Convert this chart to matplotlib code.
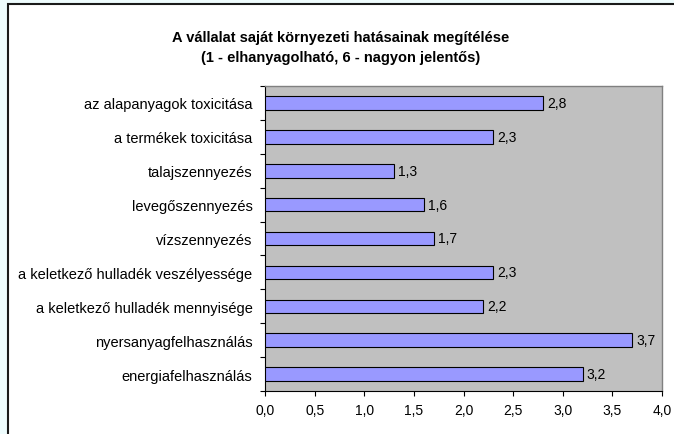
import matplotlib
matplotlib.use("Agg")
import matplotlib.pyplot as plt
from matplotlib.patches import Rectangle
from matplotlib.ticker import FixedLocator
import numpy as np

plt.rcParams['font.family'] = ['Liberation Sans', 'DejaVu Sans']

categories = [
    "az alapanyagok toxicitása",
    "a termékek toxicitása",
    "talajszennyezés",
    "levegőszennyezés",
    "vízszennyezés",
    "a keletkező hulladék veszélyessége",
    "a keletkező hulladék mennyisége",
    "nyersanyagfelhasználás",
    "energiafelhasználás",
]
values = [2.8, 2.3, 1.3, 1.6, 1.7, 2.3, 2.2, 3.7, 3.2]
x_ticks = [0.0, 0.5, 1.0, 1.5, 2.0, 2.5, 3.0, 3.5, 4.0]
title = "A vállalat saját környezeti hatásainak megítélése\n(1 - elhanyagolható, 6 - nagyon jelentős)"

W, H = 674, 435
fig = plt.figure(figsize=(W / 100, H / 100), dpi=100)
fig.patch.set_facecolor("#eefcfd")

# white chart area with dark border (cropped at right/bottom)
fig.patches.append(Rectangle((8 / W, -0.05), 1.1, (H - 5) / H + 0.05,
                             transform=fig.transFigure, facecolor="white",
                             edgecolor="#1a1a1a", linewidth=1.5, zorder=-5))

left, right, top, bottom = 265, 662, 87, 392
ax = fig.add_axes([left / W, 1 - bottom / H, (right - left) / W, (bottom - top) / H])
ax.set_zorder(5)
ax.set_facecolor("#c0c0c0")

n = len(categories)
ypos = np.arange(n)[::-1]
bars = ax.barh(ypos, values, height=0.4, color="#9999ff", edgecolor="black", linewidth=0.8, zorder=3)
for y, v in zip(ypos, values):
    ax.text(v + 0.04, y, f"{v:.1f}".replace(".", ","), va="center", ha="left", fontsize=10, zorder=4)

ax.set_xlim(0, 4.0)
ax.set_ylim(-0.5, n - 0.5)
ax.set_xticks(x_ticks)
ax.set_xticklabels([f"{t:.1f}".replace(".", ",") for t in x_ticks], fontsize=10)
ax.set_yticks(ypos)
ax.set_yticklabels(categories, fontsize=10.5)
ax.yaxis.set_minor_locator(FixedLocator(np.arange(-0.5, n, 1.0)))
ax.tick_params(axis="y", which="major", length=0, pad=9)
ax.tick_params(axis="y", which="minor", length=3.5, direction="out", width=0.8)
ax.tick_params(axis="x", which="major", length=3.5, direction="out", width=0.8, pad=5)

for s in ["top", "right"]:
    ax.spines[s].set_color("#808080")
    ax.spines[s].set_linewidth(1.0)
for s in ["left", "bottom"]:
    ax.spines[s].set_color("black")
    ax.spines[s].set_linewidth(0.8)

fig.text(0.5 * (8 + W) / W, 1 - 48 / H, title, ha="center", va="center",
         fontsize=10.5, fontweight="bold", linespacing=1.6, zorder=6)

fig.savefig("out.png", dpi=100, facecolor=fig.get_facecolor())
